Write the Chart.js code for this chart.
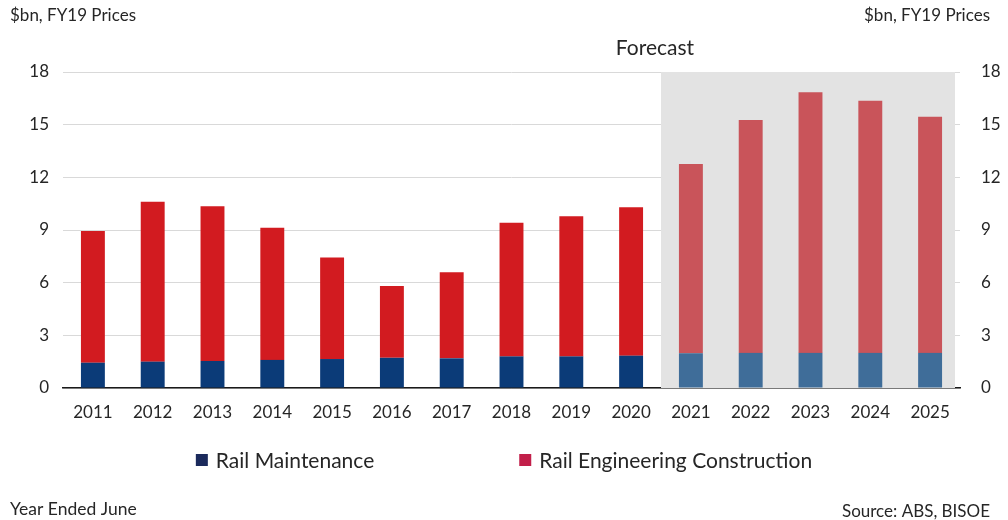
<!DOCTYPE html>
<html>
<head>
<meta charset="utf-8">
<script src="https://cdn.jsdelivr.net/npm/chart.js@4/dist/chart.umd.min.js"></script>
<style>
  html, body { margin: 0; padding: 0; background: #ffffff; }
  #wrap { position: relative; width: 1008px; height: 520px; }
</style>
</head>
<body>
<div id="wrap"><canvas id="c" width="1008" height="520"></canvas></div>
<script>
// Financial years (ended June); 2021 onwards are forecasts
const years = ['2011','2012','2013','2014','2015','2016','2017','2018','2019','2020','2021','2022','2023','2024','2025'];
const firstForecastIndex = 10;

// $bn, FY19 prices
const railMaintenance = [1.44, 1.50, 1.54, 1.60, 1.65, 1.72, 1.69, 1.80, 1.80, 1.84, 1.98, 2.00, 2.00, 2.00, 2.00];
const railEngineeringConstruction = [7.50, 9.11, 8.81, 7.53, 5.79, 4.09, 4.90, 7.61, 7.99, 8.46, 10.78, 13.26, 14.84, 14.36, 13.45];

const yTicks = [0, 3, 6, 9, 12, 15, 18];

const FONT = 'Lato, "Open Sans", sans-serif';
const TEXT = '#262626';

const blueActual = '#0b3b78', blueForecast = '#3f6d99';
const redActual = '#d21b20', redForecast = '#c9545a';
const colours = (a, f) => years.map((_, i) => i >= firstForecastIndex ? f : a);

// Grey panel behind the forecast years, plus the "Forecast" caption
const forecastPanel = {
  id: 'forecastPanel',
  beforeDatasetsDraw(chart) {
    const { ctx, chartArea, scales } = chart;
    const x = scales.x;
    const left = (x.getPixelForValue(firstForecastIndex - 1) + x.getPixelForValue(firstForecastIndex)) / 2;
    ctx.save();
    ctx.fillStyle = '#e3e3e3';
    ctx.fillRect(left, chartArea.top, chartArea.right - left - 5, chartArea.bottom - chartArea.top);
    ctx.restore();
  },
  afterDraw(chart) {
    const { ctx } = chart;
    const x = chart.scales.x;
    const left = (x.getPixelForValue(firstForecastIndex - 1) + x.getPixelForValue(firstForecastIndex)) / 2;
    ctx.save();
    ctx.fillStyle = TEXT;
    ctx.font = '21px ' + FONT;
    ctx.textAlign = 'center';
    ctx.textBaseline = 'middle';
    ctx.fillText('Forecast', left - 6, 48);
    ctx.restore();
  }
};

// Axis captions, footnotes and the legend row
const captions = {
  id: 'captions',
  afterDraw(chart) {
    const { ctx, width } = chart;
    ctx.save();
    ctx.fillStyle = TEXT;
    ctx.textBaseline = 'middle';
    ctx.font = '17px ' + FONT;
    ctx.textAlign = 'left';
    ctx.fillText('$bn, FY19 Prices', 10, 16);
    ctx.font = '17.5px ' + FONT;
    ctx.fillText('Year Ended June', 10, 509);
    ctx.font = '17px ' + FONT;
    ctx.textAlign = 'right';
    ctx.fillText('$bn, FY19 Prices', width - 18, 16);
    ctx.fillText('Source: ABS, BISOE', width - 18, 512);

    // legend
    const items = chart.data.datasets.map(d => ({ label: d.label, colour: d.legendColour }));
    ctx.font = '21px ' + FONT;
    ctx.textAlign = 'left';
    const box = 12, gap = 8, spacing = 145;
    const widths = items.map(it => box + gap + ctx.measureText(it.label).width);
    const total = widths.reduce((a, b) => a + b, 0) + spacing * (items.length - 1);
    let cx = 504 - total / 2;
    const cy = 460;
    items.forEach((it, i) => {
      ctx.fillStyle = it.colour;
      ctx.fillRect(cx, cy - box / 2, box, box);
      ctx.fillStyle = TEXT;
      ctx.fillText(it.label, cx + box + gap, cy + 1);
      cx += widths[i] + spacing;
    });
    ctx.restore();
  }
};

new Chart(document.getElementById('c'), {
  type: 'bar',
  data: {
    labels: years,
    datasets: [
      {
        label: 'Rail Maintenance',
        data: railMaintenance,
        backgroundColor: colours(blueActual, blueForecast),
        legendColour: '#1b2a5c',
        stack: 's',
        categoryPercentage: 0.8,
        barPercentage: 0.5
      },
      {
        label: 'Rail Engineering Construction',
        data: railEngineeringConstruction,
        backgroundColor: colours(redActual, redForecast),
        legendColour: '#c21f4a',
        stack: 's',
        categoryPercentage: 0.8,
        barPercentage: 0.5
      }
    ]
  },
  options: {
    responsive: false,
    animation: false,
    layout: { padding: { top: 72, left: 0, right: 0, bottom: 90 } },
    plugins: {
      legend: { display: false },
      tooltip: { enabled: false }
    },
    scales: {
      x: {
        stacked: true,
        grid: { display: false, drawTicks: false },
        border: { display: true, color: '#1a1a1a', width: 1.5 },
        ticks: { color: TEXT, font: { family: FONT, size: 17 }, padding: 14, maxRotation: 0 },
        afterFit(s) { s.height = 42; }
      },
      y: {
        stacked: true,
        position: 'left',
        min: 0, max: 18,
        afterBuildTicks(s) { s.ticks = yTicks.map(v => ({ value: v })); },
        grid: { color: '#d9d9d9', lineWidth: 1, drawTicks: false },
        border: { display: false },
        ticks: { color: TEXT, font: { family: FONT, size: 17 }, padding: 14 },
        afterFit(s) { s.width = 63; }
      },
      y2: {
        position: 'right',
        min: 0, max: 18,
        afterBuildTicks(s) { s.ticks = yTicks.map(v => ({ value: v })); },
        grid: { display: false, drawTicks: false },
        border: { display: false },
        ticks: { color: TEXT, font: { family: FONT, size: 17 }, padding: 21 },
        afterFit(s) { s.width = 48; }
      }
    }
  },
  plugins: [forecastPanel, captions]
});
</script>
</body>
</html>
